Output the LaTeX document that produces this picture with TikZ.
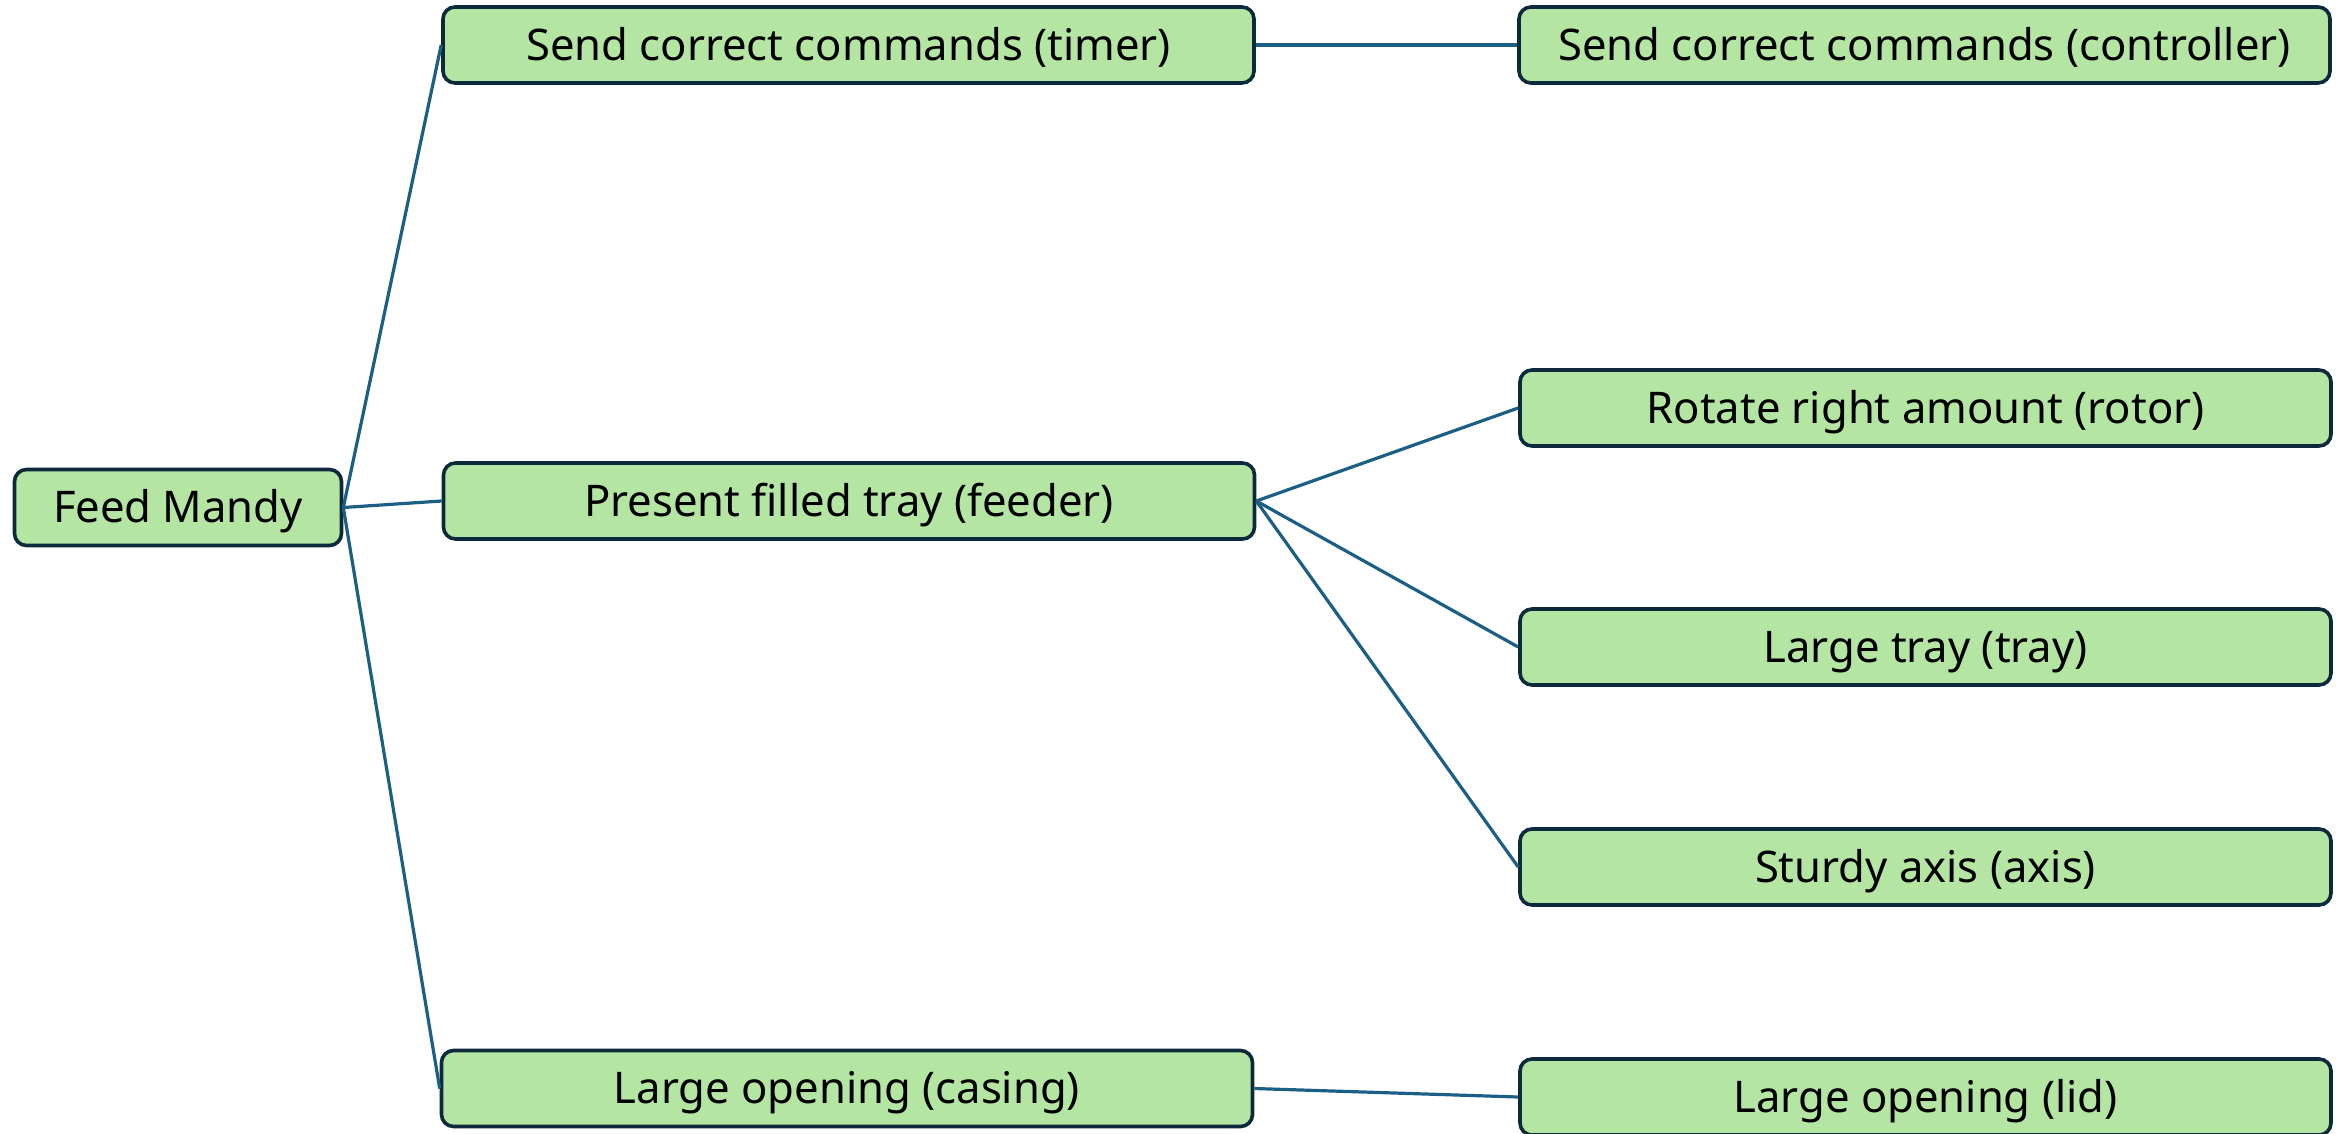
\documentclass[tikz,border=0pt]{standalone}
\usepackage{fontspec}
\setmainfont{Noto Sans}
\definecolor{boxfill}{HTML}{B4E5A2}
\definecolor{boxdraw}{HTML}{0C2A3B}
\definecolor{linkcol}{HTML}{1B5F85}
\begin{document}
\begin{tikzpicture}[x=0.5pt,y=-0.5pt,
  box/.style={draw=boxdraw,fill=boxfill,line width=1.8pt,rounded corners=6pt,
    inner sep=0pt,minimum height=38pt,text height=15.4pt,text depth=0pt,
    font=\fontsize{21.8}{24}\selectfont},
  wide/.style={box,minimum width=405.5pt},
  link/.style={draw=linkcol,line width=1.6pt}]
\useasboundingbox (0,0) rectangle (2344,1134);
\clip (0,0) rectangle (2344,1134);
\node[box,minimum width=163.5pt] (fm) at (178,507.5) {Feed Mandy};
\node[wide] (timer) at (848.5,45) {Send correct commands (timer)};
\node[wide] (feeder) at (849,501) {Present filled tray (feeder)};
\node[wide] (casing) at (847,1088.5) {Large opening (casing)};
\node[wide] (ctrl) at (1924.5,45) {Send correct commands (controller)};
\node[wide] (rotor) at (1925.5,408) {Rotate right amount (rotor)};
\node[wide] (tray) at (1925.5,647) {Large tray (tray)};
\node[wide] (axis) at (1925.5,867) {Sturdy axis (axis)};
\node[wide] (lid) at (1925.5,1097) {Large opening (lid)};
\draw[link] (fm.east) -- (timer.west);
\draw[link] (fm.east) -- (feeder.west);
\draw[link] (fm.east) -- (casing.west);
\draw[link] (timer.east) -- (ctrl.west);
\draw[link] (feeder.east) -- (rotor.west);
\draw[link] (feeder.east) -- (tray.west);
\draw[link] (feeder.east) -- (axis.west);
\draw[link] (casing.east) -- (lid.west);
\end{tikzpicture}
\end{document}
